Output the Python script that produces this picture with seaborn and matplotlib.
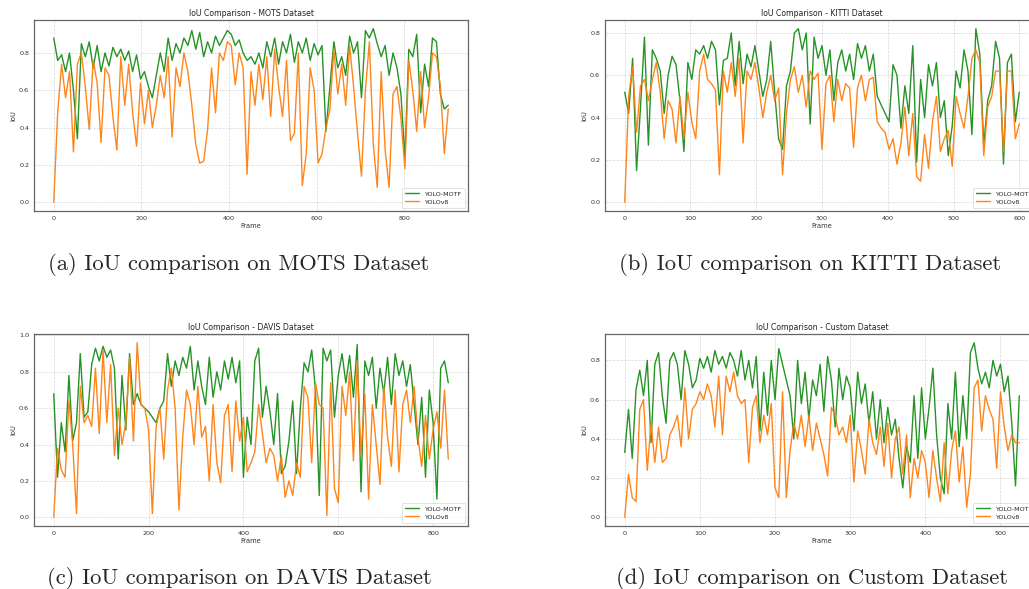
import numpy as np
import matplotlib
matplotlib.use("Agg")
import matplotlib.pyplot as plt
from matplotlib.ticker import MultipleLocator
import seaborn as sns

mots_step = 9
mots_motf = [0.88, 0.76, 0.79, 0.70, 0.80, 0.60, 0.34, 0.85, 0.78, 0.86,
             0.72, 0.84, 0.70, 0.80, 0.73, 0.83, 0.78, 0.82, 0.76, 0.81,
             0.70, 0.79, 0.66, 0.70, 0.62, 0.56, 0.68, 0.80, 0.70, 0.88,
             0.76, 0.85, 0.80, 0.88, 0.84, 0.92, 0.82, 0.91, 0.78, 0.86,
             0.80, 0.89, 0.84, 0.88, 0.92, 0.90, 0.84, 0.87, 0.80, 0.76,
             0.78, 0.74, 0.80, 0.72, 0.86, 0.78, 0.88, 0.74, 0.86, 0.80,
             0.90, 0.75, 0.86, 0.80, 0.88, 0.76, 0.85, 0.79, 0.84, 0.38,
             0.62, 0.86, 0.72, 0.78, 0.68, 0.89, 0.80, 0.86, 0.56, 0.92,
             0.88, 0.93, 0.85, 0.78, 0.84, 0.68, 0.80, 0.72, 0.58, 0.24,
             0.82, 0.78, 0.90, 0.48, 0.74, 0.62, 0.88, 0.86, 0.58, 0.50,
             0.52]
mots_v8 = [0.00, 0.48, 0.74, 0.56, 0.70, 0.27, 0.74, 0.80, 0.62, 0.39,
           0.76, 0.64, 0.32, 0.72, 0.68, 0.46, 0.28, 0.78, 0.52, 0.74,
           0.48, 0.30, 0.64, 0.42, 0.60, 0.40, 0.52, 0.68, 0.56, 0.78,
           0.35, 0.72, 0.62, 0.80, 0.70, 0.52, 0.31, 0.21, 0.22, 0.39,
           0.72, 0.48, 0.80, 0.76, 0.86, 0.84, 0.63, 0.80, 0.72, 0.15,
           0.70, 0.52, 0.74, 0.55, 0.78, 0.46, 0.82, 0.62, 0.46, 0.76,
           0.33, 0.37, 0.80, 0.09, 0.26, 0.72, 0.60, 0.21, 0.26, 0.40,
           0.50, 0.82, 0.58, 0.74, 0.52, 0.84, 0.62, 0.37, 0.14, 0.60,
           0.86, 0.31, 0.08, 0.70, 0.28, 0.08, 0.58, 0.62, 0.45, 0.18,
           0.76, 0.60, 0.38, 0.70, 0.40, 0.56, 0.80, 0.78, 0.62, 0.26,
           0.50]

kitti_step = 6
kitti_motf = [0.52, 0.42, 0.68, 0.15, 0.45, 0.78, 0.27, 0.72, 0.68, 0.62,
              0.42, 0.60, 0.69, 0.65, 0.48, 0.24, 0.66, 0.58, 0.72, 0.70,
              0.74, 0.68, 0.76, 0.72, 0.46, 0.67, 0.68, 0.80, 0.55, 0.76,
              0.56, 0.70, 0.64, 0.74, 0.62, 0.50, 0.58, 0.76, 0.52, 0.30,
              0.25, 0.55, 0.62, 0.80, 0.82, 0.72, 0.80, 0.37, 0.78, 0.68,
              0.74, 0.60, 0.72, 0.48, 0.66, 0.72, 0.62, 0.70, 0.58, 0.75,
              0.68, 0.74, 0.62, 0.70, 0.50, 0.46, 0.42, 0.38, 0.65, 0.60,
              0.35, 0.55, 0.42, 0.74, 0.19, 0.58, 0.40, 0.65, 0.55, 0.66,
              0.40, 0.48, 0.22, 0.36, 0.62, 0.54, 0.72, 0.62, 0.32, 0.82,
              0.70, 0.27, 0.48, 0.55, 0.76, 0.68, 0.18, 0.66, 0.70, 0.38,
              0.52]
kitti_v8 = [0.00, 0.50, 0.64, 0.33, 0.55, 0.58, 0.48, 0.58, 0.66, 0.52,
            0.30, 0.48, 0.44, 0.28, 0.50, 0.30, 0.52, 0.38, 0.30, 0.62,
            0.70, 0.58, 0.56, 0.53, 0.13, 0.62, 0.52, 0.66, 0.50, 0.68,
            0.28, 0.62, 0.58, 0.66, 0.54, 0.40, 0.52, 0.60, 0.48, 0.54,
            0.13, 0.42, 0.58, 0.64, 0.52, 0.60, 0.45, 0.62, 0.58, 0.61,
            0.25, 0.56, 0.60, 0.38, 0.58, 0.48, 0.56, 0.54, 0.26, 0.54,
            0.60, 0.48, 0.58, 0.59, 0.38, 0.35, 0.33, 0.25, 0.30, 0.18,
            0.28, 0.45, 0.22, 0.42, 0.12, 0.10, 0.32, 0.16, 0.38, 0.50,
            0.24, 0.30, 0.34, 0.17, 0.50, 0.42, 0.35, 0.50, 0.68, 0.72,
            0.66, 0.22, 0.45, 0.50, 0.62, 0.62, 0.24, 0.62, 0.62, 0.30,
            0.37]

davis_step = 8
davis_motf = [0.68, 0.22, 0.52, 0.36, 0.78, 0.42, 0.52, 0.90, 0.55, 0.58,
              0.84, 0.93, 0.86, 0.94, 0.88, 0.92, 0.82, 0.32, 0.78, 0.48,
              0.90, 0.62, 0.68, 0.62, 0.60, 0.58, 0.55, 0.52, 0.60, 0.64,
              0.90, 0.72, 0.86, 0.78, 0.88, 0.82, 0.94, 0.70, 0.86, 0.72,
              0.62, 0.88, 0.66, 0.80, 0.70, 0.86, 0.76, 0.88, 0.74, 0.86,
              0.22, 0.55, 0.40, 0.86, 0.93, 0.55, 0.72, 0.58, 0.40, 0.68,
              0.24, 0.28, 0.42, 0.64, 0.24, 0.60, 0.85, 0.80, 0.92, 0.70,
              0.12, 0.93, 0.86, 0.92, 0.55, 0.78, 0.90, 0.74, 0.89, 0.66,
              0.95, 0.14, 0.86, 0.78, 0.88, 0.60, 0.82, 0.68, 0.88, 0.62,
              0.90, 0.78, 0.86, 0.72, 0.84, 0.62, 0.40, 0.66, 0.22, 0.70,
              0.52, 0.10, 0.82, 0.86, 0.74]
davis_v8 = [0.00, 0.38, 0.26, 0.22, 0.64, 0.40, 0.02, 0.72, 0.52, 0.56,
            0.50, 0.82, 0.46, 0.92, 0.52, 0.84, 0.34, 0.60, 0.40, 0.52,
            0.88, 0.42, 0.96, 0.62, 0.60, 0.48, 0.02, 0.50, 0.60, 0.32,
            0.70, 0.82, 0.60, 0.04, 0.44, 0.70, 0.62, 0.40, 0.72, 0.44,
            0.50, 0.20, 0.62, 0.30, 0.19, 0.56, 0.62, 0.25, 0.64, 0.42,
            0.55, 0.25, 0.30, 0.36, 0.62, 0.46, 0.30, 0.38, 0.34, 0.20,
            0.34, 0.11, 0.20, 0.12, 0.30, 0.22, 0.72, 0.66, 0.30, 0.74,
            0.62, 0.60, 0.01, 0.74, 0.16, 0.08, 0.72, 0.56, 0.80, 0.31,
            0.86, 0.34, 0.68, 0.10, 0.62, 0.40, 0.18, 0.72, 0.44, 0.28,
            0.70, 0.25, 0.62, 0.70, 0.52, 0.72, 0.44, 0.28, 0.56, 0.32,
            0.48, 0.58, 0.38, 0.70, 0.32]

custom_step = 5
custom_motf = [0.33, 0.55, 0.30, 0.65, 0.75, 0.62, 0.80, 0.38, 0.78, 0.84,
               0.62, 0.48, 0.80, 0.84, 0.78, 0.60, 0.85, 0.78, 0.66, 0.70,
               0.81, 0.76, 0.82, 0.74, 0.85, 0.78, 0.82, 0.76, 0.84, 0.80,
               0.72, 0.85, 0.70, 0.80, 0.66, 0.82, 0.44, 0.74, 0.52, 0.80,
               0.60, 0.86, 0.78, 0.70, 0.62, 0.40, 0.80, 0.58, 0.74, 0.50,
               0.70, 0.62, 0.78, 0.54, 0.82, 0.70, 0.46, 0.76, 0.60, 0.72,
               0.66, 0.44, 0.74, 0.58, 0.68, 0.48, 0.64, 0.40, 0.60, 0.38,
               0.56, 0.42, 0.50, 0.30, 0.15, 0.36, 0.28, 0.62, 0.30, 0.66,
               0.40, 0.56, 0.76, 0.42, 0.20, 0.12, 0.58, 0.40, 0.74, 0.36,
               0.62, 0.40, 0.84, 0.89, 0.76, 0.68, 0.74, 0.66, 0.80, 0.72,
               0.78, 0.64, 0.72, 0.48, 0.16, 0.62]
custom_v8 = [0.00, 0.22, 0.10, 0.08, 0.55, 0.60, 0.24, 0.48, 0.28, 0.46,
             0.28, 0.30, 0.42, 0.46, 0.52, 0.36, 0.66, 0.40, 0.55, 0.58,
             0.64, 0.60, 0.68, 0.62, 0.46, 0.72, 0.42, 0.72, 0.64, 0.74,
             0.62, 0.58, 0.60, 0.28, 0.56, 0.62, 0.38, 0.52, 0.42, 0.58,
             0.15, 0.10, 0.64, 0.10, 0.34, 0.48, 0.40, 0.52, 0.36, 0.52,
             0.34, 0.48, 0.40, 0.32, 0.21, 0.56, 0.52, 0.42, 0.46, 0.38,
             0.52, 0.18, 0.44, 0.34, 0.22, 0.50, 0.38, 0.32, 0.46, 0.26,
             0.48, 0.20, 0.40, 0.46, 0.22, 0.42, 0.10, 0.30, 0.20, 0.34,
             0.28, 0.10, 0.34, 0.20, 0.08, 0.38, 0.12, 0.34, 0.44, 0.18,
             0.36, 0.05, 0.22, 0.66, 0.70, 0.44, 0.62, 0.55, 0.50, 0.25,
             0.64, 0.46, 0.34, 0.42, 0.38, 0.38]

panels = [
    ("MOTS", mots_step, mots_motf, mots_v8, 200),
    ("KITTI", kitti_step, kitti_motf, kitti_v8, 100),
    ("DAVIS", davis_step, davis_motf, davis_v8, 200),
    ("Custom", custom_step, custom_motf, custom_v8, 100),
]
captions = ["(a) IoU comparison on MOTS Dataset",
            "(b) IoU comparison on KITTI Dataset",
            "(c) IoU comparison on DAVIS Dataset",
            "(d) IoU comparison on Custom Dataset"]

sns.set_style("white")
plt.rcParams["font.family"] = ["DejaVu Sans"]

W, H = 1029, 589
fig = plt.figure(figsize=(W / 100, H / 100), dpi=100)

# axes boxes in pixels: left, top, width, height (right column runs off the page)
boxes = [(34, 20, 434, 191), (605, 20, 434, 191),
         (34, 334, 434, 192), (605, 334, 434, 192)]
cap_pos = [(239, 264), (810, 264), (239, 578), (812, 578)]

for (name, step, motf, v8, xstep), (l, t, w, h), cap, (cx, cy) in zip(
        panels, boxes, captions, cap_pos):
    ax = fig.add_axes([l / W, 1 - (t + h) / H, w / W, h / H])
    frames = np.arange(len(motf)) * step
    sns.lineplot(x=frames, y=motf, ax=ax, color="green", alpha=0.85,
                 linewidth=1.0, label="YOLO-MOTF")
    sns.lineplot(x=frames, y=v8, ax=ax, color="#ff7f0e", alpha=0.95,
                 linewidth=1.0, label="YOLOv8")
    ax.set_title(f"IoU Comparison - {name} Dataset", fontsize=5.6, pad=3,
                 color="#222222")
    ax.set_xlabel("Frame", fontsize=4.8, labelpad=1.5, color="#333333")
    ax.set_ylabel("IoU", fontsize=4.8, labelpad=2, color="#333333")
    ax.xaxis.set_major_locator(MultipleLocator(xstep))
    ax.yaxis.set_major_locator(MultipleLocator(0.2))
    ax.tick_params(labelsize=4.6, length=2, width=0.5, pad=1.5,
                   colors="#333333")
    ax.grid(True, linestyle="--", linewidth=0.5, color="#cccccc", alpha=0.8)
    for s in ax.spines.values():
        s.set_color("#666666")
        s.set_linewidth(0.9)
    leg = ax.legend(loc="lower right", fontsize=4.6, frameon=True,
                    handlelength=2.2, borderpad=0.5, labelspacing=0.4)
    leg.get_frame().set_edgecolor("#cccccc")
    leg.get_frame().set_linewidth(0.5)
    fig.text(cx / W, 1 - cy / H, cap, ha="center", va="center",
             fontsize=16.3, family="cmr10")

fig.savefig("out.png", dpi=100)
